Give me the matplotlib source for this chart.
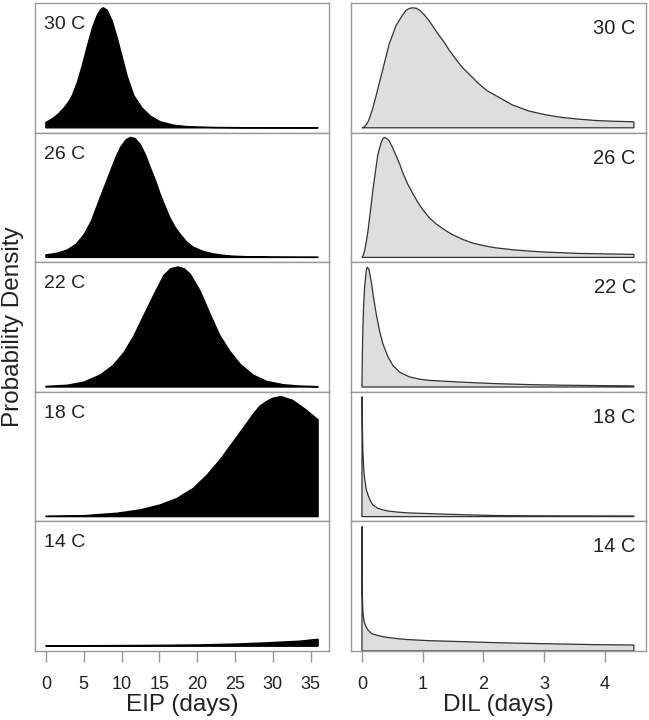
import matplotlib
matplotlib.use("Agg")
import matplotlib.pyplot as plt
import numpy as np

plt.rcParams['font.family'] = ['Liberation Sans', 'DejaVu Sans']

temps = ["30 C", "26 C", "22 C", "18 C", "14 C"]

# ---- EIP densities (relative to panel scale), left column ----
eip_x_30 = [0, 0.5, 1.1, 1.7, 2.4, 3.0, 3.5, 4.17, 4.82, 5.48, 6.14, 6.8, 7.24, 7.59, 8.11, 8.77,
            9.43, 10.09, 10.75, 11.62, 12.72, 13.82, 15.13, 16.89, 18.64, 22.15, 26, 30, 36]
eip_y_30 = [0.045, 0.062, 0.086, 0.118, 0.165, 0.215, 0.27, 0.38, 0.52, 0.68, 0.83, 0.94, 0.985,
            1.0, 0.98, 0.89, 0.75, 0.59, 0.43, 0.27, 0.165, 0.098, 0.05, 0.022, 0.01, 0.003,
            0.001, 0.0005, 0.0002]

eip_x_26 = [0, 1.5, 2.85, 4, 5, 6, 7.2, 8, 8.55, 9.3, 9.9, 10.6, 11.2, 11.8, 12.5, 13.2, 13.8,
            14.5, 15.1, 15.8, 16.4, 17.1, 17.8, 18.6, 19.5, 20.8, 22.1, 23.5, 24.8, 27, 30, 33, 36]
eip_y_26 = [0.02, 0.035, 0.062, 0.11, 0.185, 0.30, 0.5, 0.63, 0.72, 0.84, 0.92, 0.98, 1.0, 0.99,
            0.94, 0.85, 0.75, 0.64, 0.53, 0.42, 0.33, 0.25, 0.19, 0.13, 0.085, 0.05, 0.03, 0.017,
            0.01, 0.005, 0.002, 0.001, 0.0005]

eip_x_22 = [0, 2.85, 5.0, 7.2, 8.9, 10.3, 11.6, 12.9, 14.3, 15.6, 16.5, 17.45, 18.3, 19.1, 20.4,
            21.7, 23.0, 24.3, 25.7, 27.4, 29.2, 31.4, 33.6, 36]
eip_y_22 = [0.005, 0.015, 0.04, 0.10, 0.18, 0.285, 0.42, 0.59, 0.77, 0.93, 0.985, 1.0, 0.985, 0.94,
            0.80, 0.61, 0.43, 0.30, 0.19, 0.10, 0.047, 0.019, 0.008, 0.003]

eip_x_18 = [0, 5.0, 9.4, 12.5, 15.1, 17.3, 19.5, 21.3, 23.0, 24.8, 26.6, 27.5, 28.3, 29.2, 30.0,
            31.1, 32.6, 34.4, 36]
eip_y_18 = [0.003, 0.008, 0.028, 0.056, 0.097, 0.15, 0.235, 0.345, 0.47, 0.625, 0.78, 0.86, 0.92,
            0.96, 0.986, 1.0, 0.97, 0.89, 0.806]

eip_x_14 = [0, 5, 11.6, 16, 20.4, 25, 29.2, 33.6, 36]
eip_y_14 = [0.003, 0.004, 0.006, 0.008, 0.011, 0.018, 0.028, 0.042, 0.058]

# ---- DIL densities (relative to panel scale), right column ----
dil_x_30 = [0, 0.035, 0.07, 0.1, 0.126, 0.18, 0.235, 0.29, 0.345, 0.4, 0.45, 0.51, 0.56, 0.62,
            0.67, 0.73, 0.78, 0.84, 0.9, 0.95, 1.03, 1.11, 1.19, 1.27, 1.36, 1.44, 1.55, 1.66,
            1.8, 1.93, 2.06, 2.2, 2.48, 2.75, 3.03, 3.3, 3.57, 3.85, 4.12, 4.48]
dil_y_30 = [0, 0.006, 0.025, 0.05, 0.08, 0.165, 0.27, 0.38, 0.49, 0.60, 0.70, 0.78, 0.85, 0.90,
            0.94, 0.98, 0.995, 1.0, 0.995, 0.98, 0.94, 0.89, 0.83, 0.77, 0.71, 0.645, 0.57, 0.50,
            0.43, 0.365, 0.31, 0.27, 0.19, 0.14, 0.108, 0.086, 0.072, 0.061, 0.055, 0.05]

dil_x_26 = [0, 0.02, 0.044, 0.07, 0.1, 0.126, 0.153, 0.18, 0.21, 0.235, 0.26, 0.29, 0.32, 0.345,
            0.37, 0.41, 0.45, 0.51, 0.56, 0.62, 0.67, 0.755, 0.84, 0.92, 1.0, 1.11, 1.22, 1.36,
            1.49, 1.66, 1.82, 2.04, 2.2, 2.48, 2.75, 3.03, 3.3, 3.57, 3.85, 4.12, 4.48]
dil_y_26 = [0, 0.015, 0.055, 0.125, 0.22, 0.33, 0.44, 0.56, 0.67, 0.76, 0.85, 0.91, 0.96, 0.99,
            1.0, 0.99, 0.97, 0.91, 0.85, 0.78, 0.71, 0.61, 0.53, 0.46, 0.40, 0.33, 0.28, 0.23,
            0.19, 0.15, 0.12, 0.094, 0.08, 0.064, 0.053, 0.044, 0.039, 0.033, 0.031, 0.028, 0.025]

dil_x_22 = [0, 0.005, 0.016, 0.03, 0.044, 0.071, 0.088, 0.115, 0.153, 0.19, 0.235, 0.29, 0.345,
            0.43, 0.51, 0.62, 0.78, 0.95, 1.11, 1.66, 2.2, 2.75, 3.3, 3.85, 4.48]
dil_y_22 = [0, 0.2, 0.50, 0.70, 0.83, 0.97, 1.0, 0.98, 0.88, 0.75, 0.61, 0.47, 0.36, 0.25, 0.18,
            0.124, 0.085, 0.065, 0.055, 0.04, 0.028, 0.02, 0.015, 0.012, 0.009]

dil_x_18 = [0, 0.003, 0.008, 0.016, 0.03, 0.044, 0.07, 0.1, 0.14, 0.18, 0.26, 0.345, 0.45, 0.62,
            0.8, 1.11, 1.5, 2.2, 2.75, 3.3, 3.85, 4.48]
dil_y_18 = [0, 1.0, 0.75, 0.54, 0.4, 0.32, 0.23, 0.18, 0.13, 0.097, 0.07, 0.056, 0.045, 0.036,
            0.03, 0.025, 0.018, 0.009, 0.007, 0.006, 0.0055, 0.005]

dil_x_14 = [0, 0.003, 0.006, 0.016, 0.035, 0.055, 0.1, 0.16, 0.235, 0.34, 0.45, 0.6, 0.78, 1.11,
            1.66, 2.2, 2.75, 3.3, 3.85, 4.48]
dil_y_14 = [0, 1.0, 0.47, 0.31, 0.24, 0.208, 0.168, 0.14, 0.128, 0.115, 0.107, 0.098, 0.091,
            0.083, 0.075, 0.067, 0.061, 0.056, 0.051, 0.048]

eip_series = [(eip_x_30, eip_y_30), (eip_x_26, eip_y_26), (eip_x_22, eip_y_22),
              (eip_x_18, eip_y_18), (eip_x_14, eip_y_14)]
dil_series = [(dil_x_30, dil_y_30), (dil_x_26, dil_y_26), (dil_x_22, dil_y_22),
              (dil_x_18, dil_y_18), (dil_x_14, dil_y_14)]

eip_ticks = [0, 5, 10, 15, 20, 25, 30, 35]
dil_ticks = [0, 1, 2, 3, 4]

W, H = 649, 720
fig = plt.figure(figsize=(W / 100, H / 100), dpi=100)

frame_col = '#999999'
text_col = '#222222'

top_px, bot_px = 3, 651
row_h = (bot_px - top_px) / 5
left_x0, left_x1 = 35, 329
right_x0, right_x1 = 351, 646

for i in range(5):
    y_top = top_px + i * row_h
    yb = 1 - (y_top + row_h) / H
    hh = row_h / H
    axL = fig.add_axes([left_x0 / W, yb, (left_x1 - left_x0) / W, hh])
    axR = fig.add_axes([right_x0 / W, yb, (right_x1 - right_x0) / W, hh])

    ex, ey = eip_series[i]
    ex = np.asarray(ex); ey = np.asarray(ey)
    axL.fill(np.r_[ex, ex[-1], ex[0]], np.r_[ey, 0, 0], facecolor='black',
             edgecolor='black', linewidth=1.0)
    axL.set_xlim(-1.44, 37.44)
    axL.set_ylim(-0.04, 1.04)

    dx, dy = dil_series[i]
    dx = np.asarray(dx); dy = np.asarray(dy)
    axR.fill(np.r_[dx, dx[-1], dx[0]], np.r_[dy, 0, 0], facecolor='#dedede',
             edgecolor='#333333', linewidth=0.9)
    axR.set_xlim(-0.18, 4.68)
    if i == 4:
        axR.set_ylim(0, 1.04)
    else:
        axR.set_ylim(-0.04, 1.04)

    for ax in (axL, axR):
        for s in ax.spines.values():
            s.set_color(frame_col)
            s.set_linewidth(1.0)
        ax.set_yticks([])
        ax.tick_params(axis='x', colors=frame_col, length=8, width=1.0,
                       labelcolor=text_col, labelsize=13, pad=10)

    axL.text(0.03, 1 - 21.5 / row_h, temps[i], transform=axL.transAxes, ha='left',
             va='center', fontsize=14, color=text_col)
    axR.text(0.966, 1 - 25.5 / row_h, temps[i], transform=axR.transAxes, ha='right',
             va='center', fontsize=14.5, color=text_col)

    if i == 4:
        axL.set_xticks(eip_ticks)
        axR.set_xticks(dil_ticks)
    else:
        axL.set_xticks([])
        axR.set_xticks([])

fig.text((left_x0 + left_x1) / 2 / W, 1 - 705 / H, "EIP (days)", ha='center', va='center',
         fontsize=17.5, color=text_col)
fig.text((right_x0 + right_x1) / 2 / W, 1 - 705 / H, "DIL (days)", ha='center', va='center',
         fontsize=17.5, color=text_col)
fig.text(13 / W, 1 - 327 / H, "Probability Density", rotation=90, ha='center', va='center',
         fontsize=17.5, color=text_col)

fig.savefig("out.png", dpi=100)
